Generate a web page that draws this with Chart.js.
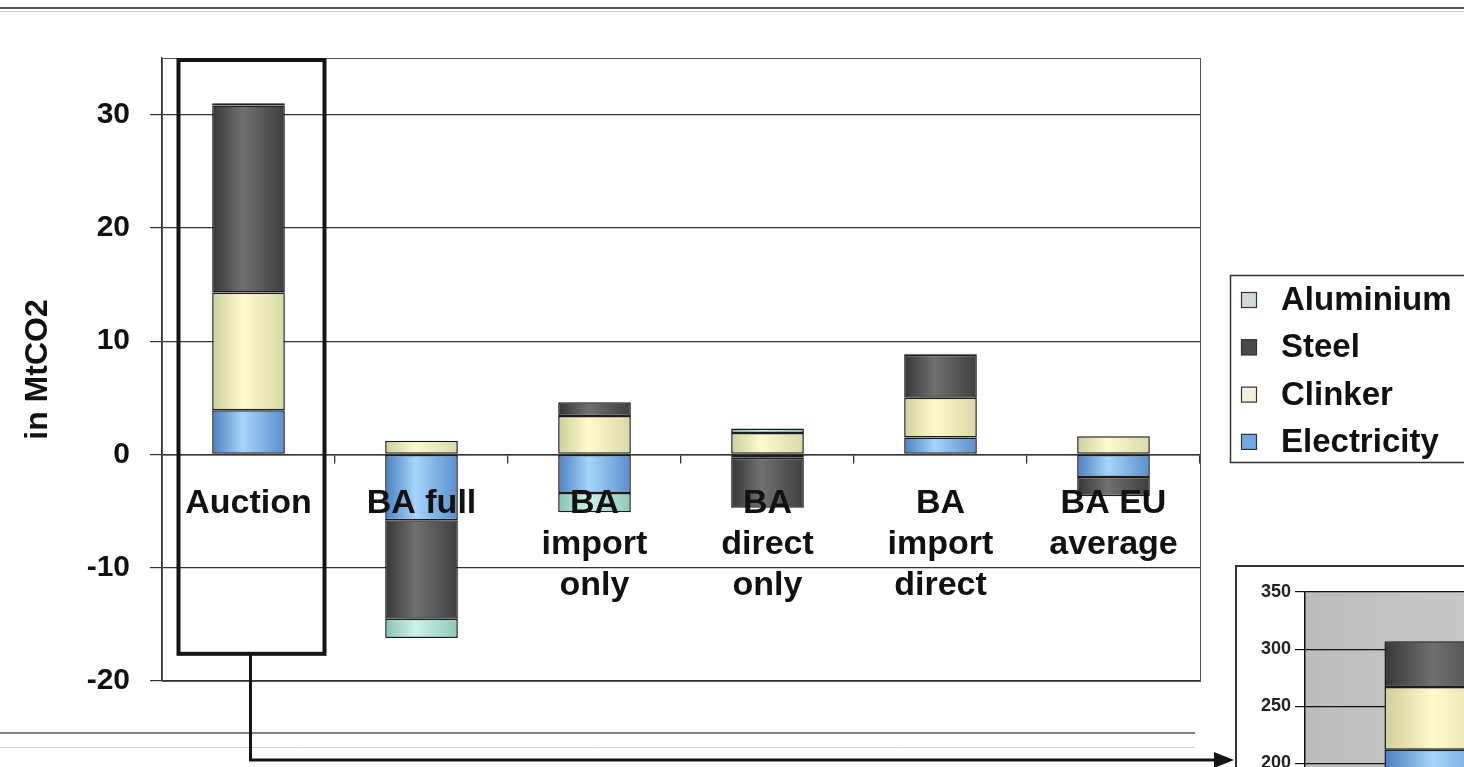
<!DOCTYPE html>
<html>
<head>
<meta charset="utf-8">
<script src="https://cdn.jsdelivr.net/npm/chart.js@4.4.1/dist/chart.umd.min.js"></script>
<style>
  html, body { margin: 0; padding: 0; background: #fff; width: 1464px; height: 767px; overflow: hidden; }
  #main { position: absolute; left: 0; top: 0; }
  #insetBox { position: absolute; left: 1235px; top: 565px; width: 420px; height: 460px;
              border-left: 2px solid #333; border-top: 2px solid #333; background: #fff; }
  #inset { position: absolute; left: 0; top: 0; }
</style>
</head>
<body>
<canvas id="main" width="1464" height="767"></canvas>
<div id="insetBox"><canvas id="inset" width="400" height="440"></canvas></div>
<script>
// Change in emissions per allocation scenario, MtCO2
const categories = ['Auction', 'BA full', ['BA', 'import', 'only'], ['BA', 'direct', 'only'], ['BA', 'import', 'direct'], ['BA EU', 'average']];
const electricity = [3.9, -5.8, -3.4, -0.3, 1.5, -2.0];
const clinker     = [10.4, 1.2, 3.4, 1.9, 3.5, 1.6];
const steel       = [16.5, -8.7, 1.2, -4.4, 3.8, -1.7];
const aluminium   = [0.2, -1.7, -1.7, 0.4, 0.1, 0];
const yTicks = [-20, -10, 0, 10, 20, 30];
const highlightLow = -17.6;

// Absolute totals for the auction scenario (small panel)
const insetCategories = ['Auction'];
const insetElectricity = [212];
const insetClinker     = [55];
const insetSteel       = [40];
const insetAluminium   = [0];
const insetTicks = [0, 50, 100, 150, 200, 250, 300, 350];

const FONT = '"Liberation Sans", Arial, sans-serif';

// Cylinder-like horizontal shading per sector: [left edge, highlight, right edge]
const sectorStyle = {
  Electricity: { shade: ['#4a80c0', '#a6d4fb', '#5a8fcc'], key: '#74a8e2' },
  Clinker:     { shade: ['#cfcf9c', '#fbfbcc', '#d8d8a8'], key: '#f2f2dc' },
  Steel:       { shade: ['#363636', '#707070', '#3e3e3e'], key: '#4a4a4a' },
  Aluminium:   { shade: ['#84c2b2', '#cdf3ea', '#8ec8ba'], key: '#d0ddd6' }
};

function makeDatasets(series) {
  return series.map(([label, data]) => ({
    label,
    data,
    backgroundColor: () => sectorStyle[label].key,
    borderColor: '#1c1c1c',
    borderWidth: 1.5,
    borderSkipped: false
  }));
}

const shadePlugin = {
  id: 'shade',
  beforeDatasetsDraw(chart) {
    const ctx = chart.ctx;
    chart.data.datasets.forEach((ds, i) => {
      const st = sectorStyle[ds.label].shade;
      chart.getDatasetMeta(i).data.forEach(el => {
        const half = el.width / 2;
        const g = ctx.createLinearGradient(el.x - half, 0, el.x + half, 0);
        g.addColorStop(0, st[0]);
        g.addColorStop(0.42, st[1]);
        g.addColorStop(1, st[2]);
        el.options.backgroundColor = g;
      });
    });
  }
};

const framePlugin = {
  id: 'frame',
  beforeDraw(chart) {
    const ctx = chart.ctx;
    ctx.save();
    ctx.fillStyle = '#fff';
    ctx.fillRect(0, 0, chart.width, chart.height);
    // page rules above and below the figure
    ctx.strokeStyle = '#555'; ctx.lineWidth = 2;
    ctx.beginPath(); ctx.moveTo(0, 8); ctx.lineTo(chart.width, 8); ctx.stroke();
    ctx.strokeStyle = '#c8c8c8'; ctx.lineWidth = 1;
    ctx.beginPath(); ctx.moveTo(0, 11.5); ctx.lineTo(chart.width, 11.5); ctx.stroke();
    ctx.strokeStyle = '#555'; ctx.lineWidth = 1.5;
    ctx.beginPath(); ctx.moveTo(0, 733); ctx.lineTo(1195, 733); ctx.stroke();
    ctx.strokeStyle = '#d0d0d0'; ctx.lineWidth = 1;
    ctx.beginPath(); ctx.moveTo(0, 747.5); ctx.lineTo(1195, 747.5); ctx.stroke();
    ctx.restore();
  },
  beforeDatasetsDraw(chart) {
    const { ctx, chartArea: a } = chart;
    ctx.save();
    ctx.strokeStyle = '#555'; ctx.lineWidth = 1;
    ctx.strokeRect(a.left + 0.5, a.top + 0.5, a.right - a.left, a.bottom - a.top);
    ctx.restore();
  },
  afterDraw(chart) {
    const { ctx, chartArea: a } = chart;
    const xs = chart.scales.x, ys = chart.scales.y;
    const xc = xs.getPixelForValue(0);
    const yLow = ys.getPixelForValue(highlightLow);
    ctx.save();
    // highlight box around the auction scenario
    ctx.strokeStyle = '#151515'; ctx.lineWidth = 4;
    ctx.strokeRect(xc - 70, a.top + 2, 146, yLow - a.top - 2);
    // connector arrow towards the small panel
    ctx.lineWidth = 3;
    ctx.beginPath();
    ctx.moveTo(xc + 2, yLow);
    ctx.lineTo(xc + 2, 760);
    ctx.lineTo(1218, 760);
    ctx.stroke();
    ctx.fillStyle = '#151515';
    ctx.beginPath();
    ctx.moveTo(1234, 760); ctx.lineTo(1214, 752); ctx.lineTo(1214, 768); ctx.closePath();
    ctx.fill();

    // legend, top entry = last stacked sector
    const lx = 1230, ly = 275;
    ctx.fillStyle = '#fff';
    ctx.fillRect(lx, ly, 260, 187);
    ctx.strokeStyle = '#333'; ctx.lineWidth = 1.5;
    ctx.strokeRect(lx + 0.5, ly + 0.5, 260, 187);
    const items = chart.data.datasets.slice().reverse();
    ctx.font = 'bold 33px ' + FONT;
    ctx.textBaseline = 'middle';
    items.forEach((ds, i) => {
      const cy = 300 + i * 47.3;
      ctx.fillStyle = sectorStyle[ds.label].key;
      ctx.fillRect(1241, cy - 8, 16, 16);
      ctx.strokeStyle = '#333'; ctx.lineWidth = 1.2;
      ctx.strokeRect(1241.5, cy - 7.5, 15, 15);
      ctx.fillStyle = '#111';
      ctx.fillText(ds.label, 1281, cy + 1);
    });
    ctx.restore();
  }
};

new Chart(document.getElementById('main'), {
  type: 'bar',
  data: {
    labels: categories,
    datasets: makeDatasets([
      ['Electricity', electricity],
      ['Clinker', clinker],
      ['Steel', steel],
      ['Aluminium', aluminium]
    ])
  },
  options: {
    responsive: false,
    animation: false,
    devicePixelRatio: 1,
    layout: { padding: { left: 0, top: 58, right: 264, bottom: 86 } },
    datasets: { bar: { barPercentage: 0.42, categoryPercentage: 1 } },
    plugins: { legend: { display: false }, tooltip: { enabled: false } },
    scales: {
      x: {
        stacked: true,
        position: { y: 0 },
        grid: { drawOnChartArea: false, drawTicks: true, tickLength: 8, color: '#333', lineWidth: 1.3, offset: true },
        border: { display: true, color: '#333', width: 1.5 },
        ticks: {
          z: 1,
          color: '#111',
          padding: 21,
          maxRotation: 0,
          autoSkip: false,
          font: { family: FONT, size: 34, weight: 'bold', lineHeight: 1.2 }
        }
      },
      y: {
        stacked: true,
        min: -20,
        max: 35,
        afterBuildTicks: s => { s.ticks = yTicks.map(v => ({ value: v })); },
        afterFit: s => { s.width = 162; },
        grid: { color: '#333', lineWidth: 1.2, tickLength: 12 },
        border: { display: true, color: '#333', width: 1.3 },
        ticks: {
          color: '#111',
          padding: 20,
          font: { family: FONT, size: 30, weight: 'bold' }
        },
        title: {
          display: true,
          text: 'in MtCO2',
          color: '#111',
          padding: { top: 19, bottom: 0 },
          font: { family: FONT, size: 32, weight: 'bold', lineHeight: 1.2 }
        }
      }
    }
  },
  plugins: [framePlugin, shadePlugin]
});

const insetBackground = {
  id: 'insetBg',
  beforeDraw(chart) {
    const { ctx, chartArea: a } = chart;
    ctx.save();
    const g = ctx.createLinearGradient(a.left, 0, a.right, 0);
    g.addColorStop(0, '#bcbcbc');
    g.addColorStop(1, '#cfcfcf');
    ctx.fillStyle = g;
    ctx.fillRect(a.left, a.top, a.right - a.left, a.bottom - a.top);
    ctx.restore();
  }
};

new Chart(document.getElementById('inset'), {
  type: 'bar',
  data: {
    labels: insetCategories,
    datasets: makeDatasets([
      ['Electricity', insetElectricity],
      ['Clinker', insetClinker],
      ['Steel', insetSteel],
      ['Aluminium', insetAluminium]
    ])
  },
  options: {
    responsive: false,
    animation: false,
    devicePixelRatio: 1,
    layout: { padding: { left: 0, top: 25, right: 58, bottom: 10 } },
    datasets: { bar: { barPercentage: 0.42, categoryPercentage: 1 } },
    plugins: { legend: { display: false }, tooltip: { enabled: false } },
    scales: {
      x: { stacked: true, display: false },
      y: {
        stacked: true,
        min: 0,
        max: 350,
        afterBuildTicks: s => { s.ticks = insetTicks.map(v => ({ value: v })); },
        afterFit: s => { s.width = 68; },
        grid: { color: '#111', lineWidth: 1.2, tickLength: 10 },
        border: { display: true, color: '#111', width: 1.5 },
        ticks: { color: '#222', padding: 4, font: { family: FONT, size: 18, weight: 'bold' } }
      }
    }
  },
  plugins: [insetBackground, shadePlugin]
});
</script>
</body>
</html>
